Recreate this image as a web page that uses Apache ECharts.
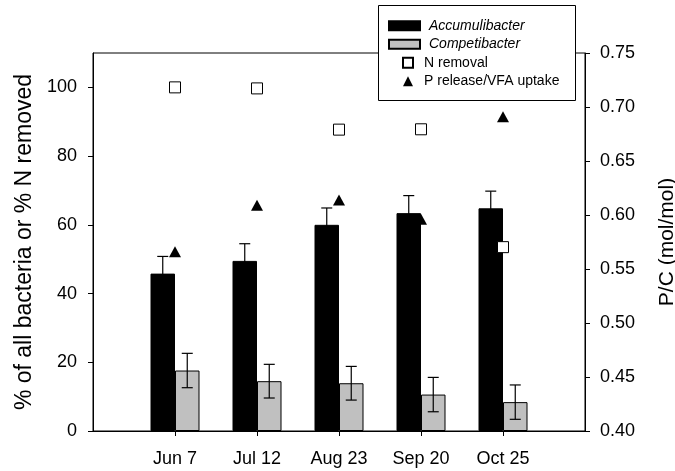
<!DOCTYPE html>
<html>
<head>
<meta charset="utf-8">
<script src="https://cdn.jsdelivr.net/npm/echarts@6/dist/echarts.min.js"></script>
<style>
html,body{margin:0;padding:0;background:#fff;}
#chart{width:675px;height:471px;}
</style>
</head>
<body>
<div id="chart"></div>
<script>
// ---- data ----
const dates = ['Jun 7', 'Jul 12', 'Aug 23', 'Sep 20', 'Oct 25'];
const accumulibacter = [45.8, 49.5, 60.0, 63.4, 64.8];
const accumulibacterErr = [5.0, 5.0, 4.9, 5.1, 5.0];
const competibacter = [17.6, 14.5, 13.9, 10.6, 8.4];
const competibacterErr = [5.0, 4.9, 4.9, 5.0, 5.0];
const nRemoval = [100, 99.7, 87.7, 87.8, 53.5];
const pRelease = [0.566, 0.609, 0.614, 0.596, 0.691];
const leftTicks = [0, 20, 40, 60, 80, 100];
const rightTicks = [0.40, 0.45, 0.50, 0.55, 0.60, 0.65, 0.70, 0.75];

// ---- build ----
const FONT = "'Liberation Sans', Arial, sans-serif";
const BAR_W = 24.5;
const categories = [''].concat(dates, ['']);
const pair = (arr) => arr.map((v, i) => [i + 1, v]);
const errData = (vals, errs) => vals.map((v, i) => [i + 1, v - errs[i], v + errs[i]]);

function errRender(sign) {
  return function (params, api) {
    const xc = api.coord([api.value(0), api.value(1)])[0] + sign * BAR_W / 2;
    const yLo = api.coord([api.value(0), api.value(1)])[1];
    const yHi = api.coord([api.value(0), api.value(2)])[1];
    const cap = 5.5;
    const st = { stroke: '#000', lineWidth: 1.2 };
    return {
      type: 'group',
      children: [
        { type: 'line', shape: { x1: xc, y1: yLo, x2: xc, y2: yHi }, style: st },
        { type: 'line', shape: { x1: xc - cap, y1: yHi, x2: xc + cap, y2: yHi }, style: st },
        { type: 'line', shape: { x1: xc - cap, y1: yLo, x2: xc + cap, y2: yLo }, style: st }
      ]
    };
  };
}

const chart = echarts.init(document.getElementById('chart'), null, { renderer: 'canvas' });
chart.setOption({
  animation: false,
  backgroundColor: '#fff',
  textStyle: { fontFamily: FONT, color: '#000' },
  grid: { left: 93, right: 90, top: 53, bottom: 40, containLabel: false, outerBoundsMode: 'none',
          show: true, borderColor: '#000', borderWidth: 1, backgroundColor: 'transparent' },
  graphic: [{
    type: 'rect', z: 3,
    shape: { x: 378.5, y: 5.5, width: 197, height: 95 },
    style: { fill: '#fff', stroke: '#000', lineWidth: 1 }
  }],
  legend: [{
    z: 4, padding: 0,
    orient: 'vertical', left: 388, top: 18.7,
    itemWidth: 31, itemHeight: 9, itemGap: 4.5,
    data: [{ name: 'Accumulibacter', icon: 'rect' }, { name: 'Competibacter', icon: 'rect' }],
    textStyle: { fontFamily: FONT, fontSize: 14, fontStyle: 'italic', color: '#000', lineHeight: 14, padding: [0, 0, 0, 4] }
  }, {
    z: 4, padding: 0,
    orient: 'vertical', left: 402, top: 55.7,
    itemWidth: 10, itemHeight: 10, itemGap: 4.5,
    data: ['N removal', 'P release/VFA uptake'],
    textStyle: { fontFamily: FONT, fontSize: 14, color: '#000', lineHeight: 14, padding: [0, 0, 0, 6] }
  }],
  xAxis: {
    type: 'category', data: categories, boundaryGap: false,
    axisLine: { show: true, lineStyle: { color: '#000', width: 1 } },
    axisTick: { show: true, length: 5, inside: false, interval: (i) => i >= 1 && i <= dates.length, lineStyle: { color: '#000' } },
    axisLabel: { interval: 0, margin: 19, fontSize: 18, fontFamily: FONT, color: '#000' },
    splitLine: { show: false }
  },
  yAxis: [{
    type: 'value', min: 0, max: 110, interval: 20, position: 'left',
    name: '% of all bacteria or % N removed', nameLocation: 'middle', nameGap: 57, nameRotate: 90,
    nameTextStyle: { fontFamily: FONT, fontSize: 23, color: '#000' },
    axisLine: { show: true, lineStyle: { color: '#000', width: 1 } },
    axisTick: { show: true, length: 5, customValues: leftTicks, lineStyle: { color: '#000' } },
    axisLabel: { margin: 16, fontSize: 18, fontFamily: FONT, color: '#000', customValues: leftTicks },
    splitLine: { show: false }
  }, {
    type: 'value', min: 0.40, max: 0.75, interval: 0.05, position: 'right',
    name: 'P/C (mol/mol)', nameLocation: 'middle', nameGap: 72, nameRotate: 90,
    nameTextStyle: { fontFamily: FONT, fontSize: 21, color: '#000' },
    axisLine: { show: true, lineStyle: { color: '#000', width: 1 } },
    axisTick: { show: true, length: 5, customValues: rightTicks, lineStyle: { color: '#000' } },
    axisLabel: { margin: 15, fontSize: 18, fontFamily: FONT, color: '#000', customValues: rightTicks, formatter: (v) => v.toFixed(2) },
    splitLine: { show: false }
  }],
  series: [{
    name: 'Accumulibacter', type: 'bar', yAxisIndex: 0, barWidth: BAR_W, barGap: '0%',
    itemStyle: { color: '#000', borderColor: '#000', borderWidth: 1 },
    data: pair(accumulibacter), z: 2
  }, {
    name: 'Competibacter', type: 'bar', yAxisIndex: 0, barWidth: BAR_W, barGap: '0%',
    itemStyle: { color: '#c0c0c0', borderColor: '#000', borderWidth: 1 },
    data: pair(competibacter), z: 2
  }, {
    name: 'accErr', type: 'custom', yAxisIndex: 0, renderItem: errRender(-1),
    encode: { x: 0, y: [1, 2] }, data: errData(accumulibacter, accumulibacterErr), z: 3
  }, {
    name: 'compErr', type: 'custom', yAxisIndex: 0, renderItem: errRender(1),
    encode: { x: 0, y: [1, 2] }, data: errData(competibacter, competibacterErr), z: 3
  }, {
    name: 'N removal', type: 'scatter', yAxisIndex: 0, symbol: 'rect', symbolSize: 11,
    itemStyle: { color: '#fff', borderColor: '#000', borderWidth: 1, opacity: 1 },
    data: pair(nRemoval), z: 5
  }, {
    name: 'P release/VFA uptake', type: 'scatter', yAxisIndex: 1, symbol: 'triangle', symbolSize: [12, 11],
    itemStyle: { color: '#000', opacity: 1 },
    data: pair(pRelease), z: 5
  }]
});
</script>
</body>
</html>
